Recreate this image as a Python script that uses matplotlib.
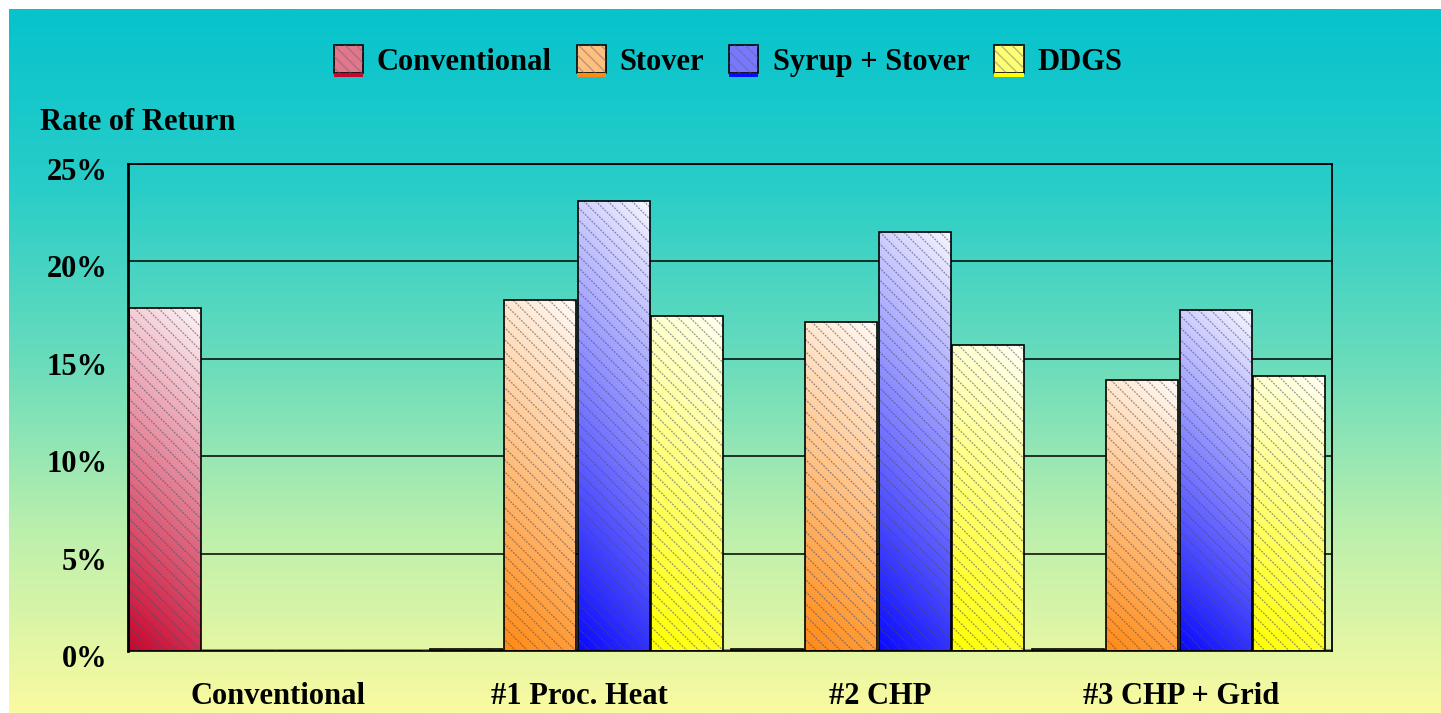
import numpy as np
import matplotlib
matplotlib.use("Agg")
import matplotlib.pyplot as plt
from matplotlib.patches import Rectangle
from matplotlib.colors import to_rgb
from matplotlib.legend_handler import HandlerBase
from matplotlib.transforms import IdentityTransform, ScaledTranslation
from matplotlib.collections import LineCollection

# ---- data -------------------------------------------------------------
groups = ["Conventional", "#1 Proc. Heat", "#2 CHP", "#3 CHP + Grid"]
series = ["Conventional", "Stover", "Syrup + Stover", "DDGS"]
conventional = [17.6, 0.1, 0.1, 0.1]
stover = [0.0, 18.0, 16.9, 13.9]
syrup_stover = [0.0, 23.1, 21.5, 17.5]
ddgs = [0.0, 17.2, 15.7, 14.1]
yticks = [0, 5, 10, 15, 20, 25]
ytick_labels = ["0%", "5%", "10%", "15%", "20%", "25%"]
ylabel = "Rate of Return"

values = [conventional, stover, syrup_stover, ddgs]
colors = ["#C8062E", "#FF8A14", "#0A0AFF", "#FFFF00"]

# ---- style ------------------------------------------------------------
plt.rcParams["font.family"] = ["Liberation Serif", "DejaVu Serif"]
plt.rcParams["font.weight"] = "bold"
FS = 22

W, H = 1441, 713
fig = plt.figure(figsize=(W / 100, H / 100), dpi=100)
fig.patch.set_facecolor("white")

# vertical teal -> pale yellow backdrop
bg = fig.add_axes([9 / W, 0, 1 - 9 / W, 1 - 9 / H])
stops = np.array([
    [6, 195, 205],
    [40, 205, 200],
    [105, 220, 188],
    [190, 240, 172],
    [250, 250, 160],
]) / 255.0
pos = np.linspace(0, 1, len(stops))
yy = np.linspace(0, 1, 400)
grad = np.stack([np.interp(yy, pos, stops[:, k]) for k in range(3)], axis=-1)
bg.imshow(grad[:, None, :], aspect="auto", extent=[0, 1, 0, 1],
          origin="upper", interpolation="bilinear")
bg.set_axis_off()

# ---- main axes --------------------------------------------------------
ax = fig.add_axes([128 / W, 1 - 651 / H, (1332 - 128) / W, (651 - 164) / H])
ax.patch.set_visible(False)

n_groups = len(groups)
n_series = len(series)
x = np.arange(n_groups)
step = 0.245
bar_w = 0.239
first = 0.004

ax.set_xlim(0, n_groups)
ax.set_ylim(yticks[0], yticks[-1])


def shade_bar(patch, base):
    """Fill a bar with a colour-to-white gradient and light diagonal hatching."""
    x0, y0 = patch.get_x(), patch.get_y()
    w, h = patch.get_width(), patch.get_height()
    if h <= 0:
        return
    base = np.array(to_rgb(base))
    v = np.linspace(0, 1, 120)[:, None]
    u = np.linspace(0, 1, 40)[None, :]
    t = np.clip(0.80 * v + 0.16 * u, 0, 0.97)[..., None]
    img = base * (1 - t) + t
    im = ax.imshow(img, extent=[x0, x0 + w, y0, y0 + h], origin="lower",
                   aspect="auto", interpolation="bilinear", zorder=2)
    im.set_clip_path(patch)
    # diagonal hatch lines in pixel space
    (px0, py0), (px1, py1) = ax.transData.transform([(x0, y0), (x0 + w, y0 + h)])
    segs = []
    k = px0 + py0
    while k <= px1 + py1:
        segs.append([(k - py1, py1), (k - py0, py0)])
        k += 12
    lc = LineCollection(segs, colors=[(0.3, 0.3, 0.4, 0.6)], linewidths=0.9,
                        linestyles=(0, (1.5, 1)), transform=IdentityTransform(),
                        zorder=2.5)
    ax.add_collection(lc)
    lc.set_clip_path(patch)


for j, (vals, col) in enumerate(zip(values, colors)):
    bars = ax.bar(x + first + j * step, vals, bar_w, align="edge",
                  facecolor="none", edgecolor="black", linewidth=1.2,
                  zorder=3, label=series[j])
    for p in bars:
        shade_bar(p, col)

ax.set_xlim(0, n_groups)
ax.set_ylim(yticks[0], yticks[-1])

# floor strip under the bars
ax.axhline(0, color="#7d8a6a", linewidth=3.5, zorder=1.5)

ax.set_yticks(yticks)
ax.set_yticklabels(ytick_labels, fontsize=FS, fontweight="bold")
ax.set_xticks(x + 0.5)
ax.set_xticklabels(groups, fontsize=FS, fontweight="bold")
ax.tick_params(axis="y", length=0, pad=15)
ax.tick_params(axis="x", length=0, pad=22)
shift_down = ScaledTranslation(0, -5 / 100, fig.dpi_scale_trans)
for lbl in ax.get_yticklabels():
    lbl.set_transform(lbl.get_transform() + shift_down)

ax.yaxis.grid(True, color="black", linewidth=1.1)
ax.set_axisbelow(True)
for side, lw in [("left", 2.0), ("top", 1.3), ("right", 1.3), ("bottom", 1.2)]:
    ax.spines[side].set_color("black")
    ax.spines[side].set_linewidth(lw)

fig.text(40 / W, 1 - 122 / H, ylabel, fontsize=FS, fontweight="bold",
         ha="left", va="center")


# ---- legend -----------------------------------------------------------
class SwatchHandler(HandlerBase):
    def create_artists(self, legend, orig_handle, xdescent, ydescent,
                       width, height, fontsize, trans):
        base = np.array(to_rgb(orig_handle.get_facecolor()))
        mix = base * 0.55 + 0.45
        fill = Rectangle((-xdescent, -ydescent), width, height,
                         facecolor=mix, edgecolor="black", linewidth=1.2,
                         transform=trans)
        hatch = Rectangle((-xdescent, -ydescent), width, height, fill=False,
                          hatch="\\\\\\", edgecolor=(0.4, 0.4, 0.45, 0.45),
                          linewidth=0, transform=trans)
        strip = Rectangle((-xdescent, -ydescent - 3), width, 3,
                          facecolor=base, edgecolor="none", transform=trans)
        return [fill, hatch, strip]


handles = [Rectangle((0, 0), 1, 1, facecolor=c) for c in colors]
fig.legend(handles, series, loc="center", bbox_to_anchor=(728 / W, 1 - 61 / H),
           ncol=4, frameon=False,
           prop={"size": FS, "weight": "bold"},
           handler_map={Rectangle: SwatchHandler()},
           handlelength=0.95, handleheight=1.0, handletextpad=0.46,
           columnspacing=0.82, borderpad=0)

fig.savefig("out.png", dpi=100)
